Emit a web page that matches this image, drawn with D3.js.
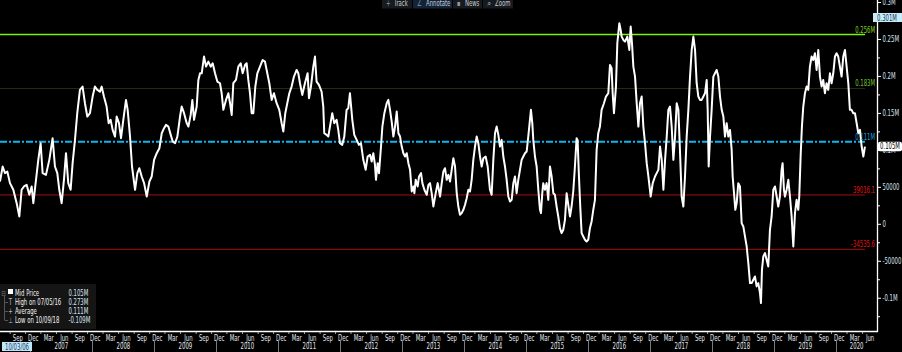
<!DOCTYPE html>
<html>
<head>
<meta charset="utf-8">
<script src="https://cdn.jsdelivr.net/npm/d3@7"></script>
<style>
html, body { margin: 0; padding: 0; background: #000; }
svg { display: block; }
text { font-family: "Liberation Sans Narrow", "DejaVu Sans Condensed", "Liberation Sans", sans-serif; font-size: 8px; }
</style>
</head>
<body>
<div id="chart"></div>
<script>
const width = 902, height = 352;
const plotW = 877, plotH = 331;

// Mid price: time as decimal year, value in thousands
const years = [
  2006.510, 2006.553, 2006.591, 2006.628, 2006.671, 2006.725, 2006.779, 2006.822, 2006.859, 2006.897,
  2006.940, 2006.983, 2007.021, 2007.048, 2007.091, 2007.128, 2007.166, 2007.198, 2007.252, 2007.306,
  2007.359, 2007.397, 2007.435, 2007.467, 2007.505, 2007.542, 2007.575, 2007.612, 2007.650, 2007.682,
  2007.720, 2007.757, 2007.800, 2007.843, 2007.881, 2007.919, 2007.962, 2008.005, 2008.042, 2008.080,
  2008.123, 2008.150, 2008.187, 2008.230, 2008.263, 2008.295, 2008.327, 2008.365, 2008.392, 2008.429,
  2008.462, 2008.499, 2008.542, 2008.569, 2008.607, 2008.639, 2008.688, 2008.725, 2008.757, 2008.795,
  2008.833, 2008.876, 2008.919, 2008.956, 2008.994, 2009.037, 2009.080, 2009.118, 2009.155, 2009.187,
  2009.225, 2009.263, 2009.295, 2009.333, 2009.370, 2009.413, 2009.440, 2009.478, 2009.521, 2009.548,
  2009.585, 2009.612, 2009.639, 2009.682, 2009.709, 2009.736, 2009.763, 2009.800, 2009.833, 2009.870,
  2009.908, 2009.940, 2009.978, 2010.015, 2010.058, 2010.085, 2010.112, 2010.155, 2010.193, 2010.220,
  2010.247, 2010.273, 2010.316, 2010.354, 2010.392, 2010.424, 2010.462, 2010.488, 2010.515, 2010.542,
  2010.569, 2010.596, 2010.628, 2010.661, 2010.704, 2010.747, 2010.784, 2010.811, 2010.854, 2010.892,
  2010.929, 2010.972, 2011.015, 2011.053, 2011.080, 2011.112, 2011.144, 2011.177, 2011.214, 2011.252,
  2011.295, 2011.322, 2011.349, 2011.386, 2011.429, 2011.472, 2011.494, 2011.526, 2011.564, 2011.591,
  2011.617, 2011.655, 2011.698, 2011.725, 2011.741, 2011.779, 2011.806, 2011.833, 2011.870, 2011.902,
  2011.940, 2011.967, 2011.994, 2012.031, 2012.064, 2012.101, 2012.128, 2012.155, 2012.193, 2012.225,
  2012.263, 2012.300, 2012.332, 2012.370, 2012.408, 2012.440, 2012.478, 2012.505, 2012.531, 2012.558,
  2012.574, 2012.601, 2012.623, 2012.655, 2012.677, 2012.709, 2012.747, 2012.773, 2012.800, 2012.827,
  2012.854, 2012.881, 2012.908, 2012.935, 2012.962, 2012.988, 2013.015, 2013.042, 2013.069, 2013.096,
  2013.123, 2013.150, 2013.177, 2013.193, 2013.214, 2013.246, 2013.268, 2013.300, 2013.322, 2013.354,
  2013.392, 2013.419, 2013.445, 2013.472, 2013.499, 2013.537, 2013.569, 2013.607, 2013.634, 2013.660,
  2013.687, 2013.714, 2013.741, 2013.768, 2013.795, 2013.822, 2013.849, 2013.876, 2013.902, 2013.929,
  2013.956, 2013.983, 2014.010, 2014.037, 2014.064, 2014.091, 2014.117, 2014.144, 2014.171, 2014.198,
  2014.225, 2014.252, 2014.279, 2014.306, 2014.343, 2014.376, 2014.413, 2014.440, 2014.467, 2014.494,
  2014.521, 2014.548, 2014.574, 2014.601, 2014.628, 2014.655, 2014.682, 2014.709, 2014.736, 2014.763,
  2014.790, 2014.816, 2014.843, 2014.870, 2014.897, 2014.924, 2014.951, 2014.978, 2015.005, 2015.031,
  2015.058, 2015.074, 2015.096, 2015.112, 2015.139, 2015.166, 2015.193, 2015.220, 2015.236, 2015.257,
  2015.273, 2015.300, 2015.327, 2015.354, 2015.381, 2015.408, 2015.435, 2015.461, 2015.488, 2015.515,
  2015.542, 2015.569, 2015.596, 2015.623, 2015.650, 2015.677, 2015.704, 2015.730, 2015.757, 2015.784,
  2015.811, 2015.827, 2015.849, 2015.870, 2015.892, 2015.919, 2015.946, 2015.972, 2015.999, 2016.026,
  2016.053, 2016.080, 2016.107, 2016.134, 2016.160, 2016.187, 2016.214, 2016.252, 2016.284, 2016.322,
  2016.349, 2016.375, 2016.392, 2016.413, 2016.445, 2016.467, 2016.499, 2016.521, 2016.537, 2016.564,
  2016.591, 2016.628, 2016.660, 2016.682, 2016.703, 2016.725, 2016.752, 2016.779, 2016.806, 2016.832,
  2016.859, 2016.886, 2016.913, 2016.940, 2016.967, 2017.004, 2017.037, 2017.074, 2017.101, 2017.128,
  2017.155, 2017.182, 2017.209, 2017.236, 2017.263, 2017.289, 2017.316, 2017.343, 2017.370, 2017.397,
  2017.424, 2017.451, 2017.478, 2017.504, 2017.531, 2017.558, 2017.585, 2017.612, 2017.639, 2017.666,
  2017.693, 2017.720, 2017.746, 2017.773, 2017.800, 2017.827, 2017.854, 2017.881, 2017.908, 2017.924,
  2017.940, 2017.962, 2017.988, 2018.015, 2018.042, 2018.069, 2018.096, 2018.123, 2018.150, 2018.177,
  2018.203, 2018.230, 2018.257, 2018.284, 2018.311, 2018.327, 2018.349, 2018.370, 2018.392, 2018.418,
  2018.445, 2018.472, 2018.499, 2018.526, 2018.553, 2018.580, 2018.607, 2018.634, 2018.660, 2018.687,
  2018.714, 2018.741, 2018.768, 2018.784, 2018.800, 2018.822, 2018.849, 2018.875, 2018.902, 2018.929,
  2018.956, 2018.983, 2019.010, 2019.037, 2019.063, 2019.090, 2019.117, 2019.133, 2019.155, 2019.171,
  2019.198, 2019.225, 2019.252, 2019.279, 2019.306, 2019.333, 2019.359, 2019.386, 2019.402, 2019.424,
  2019.445, 2019.467, 2019.494, 2019.521, 2019.547, 2019.574, 2019.601, 2019.628, 2019.655, 2019.682,
  2019.709, 2019.736, 2019.763, 2019.789, 2019.816, 2019.843, 2019.870, 2019.897, 2019.924, 2019.951,
  2019.978, 2020.004, 2020.031, 2020.058, 2020.085, 2020.112, 2020.139, 2020.166, 2020.193, 2020.219,
  2020.246, 2020.273, 2020.300, 2020.327, 2020.354, 2020.381, 2020.408, 2020.435, 2020.461
];
const midK = [
  57.2, 77.5, 68.5, 70.7, 55.0, 46.0, 27.9, 9.9, 46.0, 50.5,
  52.7, 39.2, 50.5, 27.9, 59.5, 86.5, 109.0, 68.5, 66.2, 86.5,
  115.8, 77.5, 68.5, 46.0, 27.9, 59.5, 95.5, 55.0, 46.0, 82.0,
  113.5, 149.6, 181.1, 185.6, 163.1, 145.1, 149.6, 172.1, 185.6, 181.1,
  178.8, 185.6, 172.1, 158.6, 136.1, 140.6, 127.0, 118.0, 145.1, 136.1,
  115.8, 140.6, 167.6, 154.1, 118.0, 77.5, 46.0, 68.5, 75.2, 64.0,
  55.0, 36.9, 57.2, 64.0, 86.5, 95.5, 102.3, 122.5, 129.3, 133.8,
  131.5, 120.3, 111.3, 109.0, 118.0, 145.1, 158.6, 149.6, 136.1, 131.5,
  147.3, 167.6, 140.6, 158.6, 194.6, 203.6, 203.6, 226.2, 212.6, 219.4,
  212.6, 217.1, 203.6, 192.4, 190.1, 176.6, 154.1, 167.6, 176.6, 163.1,
  147.3, 190.1, 194.6, 212.6, 217.1, 203.6, 214.9, 217.1, 194.6, 176.6,
  149.6, 149.6, 185.6, 203.6, 212.6, 221.6, 219.4, 208.1, 190.1, 167.6,
  176.6, 163.1, 154.1, 136.1, 124.8, 149.6, 163.1, 176.6, 185.6, 199.1,
  208.1, 203.6, 190.1, 174.3, 190.1, 203.6, 169.8, 185.6, 212.6, 226.2,
  192.4, 187.9, 178.8, 158.6, 122.5, 120.3, 118.0, 131.5, 149.6, 136.1,
  140.6, 127.0, 109.0, 106.8, 118.0, 154.1, 156.3, 176.6, 140.6, 120.3,
  113.5, 106.8, 109.0, 86.5, 73.0, 91.0, 93.3, 84.2, 95.5, 79.7,
  59.5, 82.0, 68.5, 104.5, 131.5, 149.6, 163.1, 167.6, 154.1, 138.3,
  118.0, 131.5, 151.8, 122.5, 118.0, 104.5, 95.5, 91.0, 95.5, 82.0,
  73.0, 43.7, 50.5, 41.4, 59.5, 50.5, 64.0, 68.5, 55.0, 46.0,
  39.2, 52.7, 55.0, 41.4, 23.4, 41.4, 55.0, 36.9, 55.0, 70.7,
  75.2, 59.5, 66.2, 57.2, 73.0, 88.7, 77.5, 41.4, 23.4, 12.2,
  14.4, 18.9, 25.7, 34.7, 46.0, 43.7, 59.5, 86.5, 104.5, 118.0,
  109.0, 91.0, 77.5, 88.7, 91.0, 77.5, 46.0, 39.2, 86.5, 122.5,
  131.5, 120.3, 104.5, 113.5, 91.0, 77.5, 59.5, 36.9, 30.2, 32.4,
  55.0, 64.0, 41.4, 59.5, 73.0, 86.5, 91.0, 95.5, 97.8, 118.0,
  140.6, 154.1, 136.1, 113.5, 91.0, 77.5, 46.0, 18.9, 14.4, 41.4,
  55.0, 46.0, 55.0, 32.4, 77.5, 64.0, 41.4, 39.2, 23.4, 9.9,
  -5.9, -12.6, -8.1, 5.4, 41.4, 25.7, 9.9, 23.4, 43.7, 77.5,
  115.8, 113.5, 64.0, 23.4, -12.6, -17.1, -21.6, -23.9, -21.6, -5.9,
  3.2, 18.9, 32.4, 100.0, 122.5, 131.5, 154.1, 163.1, 172.1, 176.6,
  214.9, 210.4, 176.6, 149.6, 185.6, 244.2, 271.2, 262.2, 253.2, 248.7,
  246.4, 253.2, 235.2, 266.7, 244.2, 212.6, 199.1, 163.1, 131.5, 163.1,
  172.1, 131.5, 109.0, 82.0, 64.0, 36.9, 55.0, 64.0, 68.5, 73.0,
  104.5, 86.5, 46.0, 86.5, 118.0, 154.1, 158.6, 131.5, 86.5, 118.0,
  163.1, 154.1, 95.5, 36.9, 23.4, 64.0, 118.0, 154.1, 199.1, 235.2,
  253.2, 235.2, 190.1, 172.1, 167.6, 167.6, 172.1, 176.6, 194.6, 154.1,
  77.5, 118.0, 154.1, 199.1, 203.6, 208.1, 199.1, 172.1, 154.1, 145.1,
  118.0, 136.1, 118.0, 127.0, 100.0, 64.0, 41.4, 18.9, 27.9, 55.0,
  50.5, 0.9, -3.6, -17.1, -30.6, -53.2, -80.2, -80.2, -75.7, -71.2,
  -84.7, -80.2, -93.7, -107.2, -62.2, -44.1, -39.6, -48.7, -57.7, -8.1,
  9.9, 46.0, 50.5, 36.9, 23.4, 36.9, 73.0, 82.0, 46.0, 36.9,
  46.0, 59.5, 36.9, 9.9, -30.6, 14.4, 32.4, 18.9, 36.9, 91.0,
  131.5, 158.6, 176.6, 185.6, 181.1, 212.6, 226.2, 221.6, 230.7, 208.1,
  235.2, 199.1, 185.6, 194.6, 176.6, 190.1, 181.1, 203.6, 190.1, 203.6,
  226.2, 230.7, 226.2, 212.6, 199.1, 226.2, 235.2, 212.6, 190.1, 154.1,
  154.1, 149.6, 149.6, 136.1, 122.5, 127.0, 104.5, 91.0, 104.5
];

// reference levels (thousands)
const levelValues = [256, 183, 111, 39.0161, -34.5356];
const levelLabels = ['0.256M', '0.183M', '0.111M', '39016.1', '-34535.6'];
const levelColors = ['#7cf400', '#1f2e14', '#12b4ee', '#a50e0e', '#a50e0e'];
const levelTextColors = ['#86d21c', '#74c232', '#1a9fd6', '#e01212', '#e01212'];

const yTicks = [-100, -50, 0, 50, 100, 150, 200, 250, 300];
const yMinorTicks = [-125, -75, -25, 25, 75, 125, 175, 225, 275];

const legendNames = ['Mid Price', 'High on 07/05/16', 'Average', 'Low on 10/09/18'];
const legendValues = ['0.105M', '0.273M', '0.111M', '-0.109M'];
const lastLabel = '0.105M';
const topLabel = '0.301M';
const cursorDate = '10/03/06';
const toolbarItems = ['Track', 'Annotate', 'News', 'Zoom'];
const toolbarIcons = ['+', '\u2220', '\u25aa', '\u2315'];

// narrow the glyphs: the terminal font is much tighter than the installed ones
const squeeze = 0.74;

// decimal year -> Date
function toDate(t) {
  const yr = Math.floor(t);
  const a = Date.UTC(yr, 0, 1), b = Date.UTC(yr + 1, 0, 1);
  return new Date(a + (t - yr) * (b - a));
}

const data = years.map((t, i) => ({ date: toDate(t), v: midK[i] }));

const x = d3.scaleUtc()
  .domain([toDate(2006.51), toDate(2020.655)])
  .range([0, plotW]);

const y = d3.scaleLinear()
  .domain([-145, 302.7])
  .range([plotH, 0]);

const svg = d3.select('#chart')
  .append('svg')
  .attr('width', width)
  .attr('height', height);

svg.append('rect').attr('width', width).attr('height', height).attr('fill', '#000');

// reference lines
levelValues.forEach((lv, i) => {
  svg.append('line')
    .attr('x1', 0).attr('x2', 865)
    .attr('y1', y(lv)).attr('y2', y(lv))
    .attr('stroke', levelColors[i])
    .attr('stroke-width', i === 0 ? 1.6 : (i === 2 ? 2 : 1))
    .attr('stroke-dasharray', i === 2 ? '7,2,2,2' : null);
});

// the series
const line = d3.line()
  .x(d => x(d.date))
  .y(d => y(d.v));

svg.append('path')
  .datum(data)
  .attr('fill', 'none')
  .attr('stroke', '#fff')
  .attr('stroke-width', 2)
  .attr('stroke-linejoin', 'round')
  .attr('d', line);

// level labels
levelValues.forEach((lv, i) => {
  svg.append('text')
    .attr('x', 875).attr('y', y(lv) - 2)
    .attr('text-anchor', 'end')
    .attr('fill', levelTextColors[i])
    .text(levelLabels[i]);
});

// right axis
const yAxis = svg.append('g')
  .attr('transform', `translate(${plotW},0)`)
  .call(d3.axisRight(y)
    .tickValues(yTicks)
    .tickSize(4)
    .tickPadding(1.5)
    .tickFormat(v => v === 0 ? '0' : Math.abs(v) >= 100 ? (v / 1000) + 'M' : String(v * 1000)));
yAxis.select('.domain').remove();
yAxis.selectAll('line').attr('stroke', '#fff');
yAxis.selectAll('text').attr('fill', '#d6e2ee').attr('font-size', 8)
  .attr('font-family', '"Liberation Sans Narrow", "DejaVu Sans Condensed", sans-serif');

const yMinor = svg.append('g')
  .attr('transform', `translate(${plotW},0)`)
  .call(d3.axisRight(y).tickValues(yMinorTicks).tickSize(3).tickFormat(''));
yMinor.select('.domain').remove();
yMinor.selectAll('line').attr('stroke', '#fff');

svg.append('line')
  .attr('x1', plotW + 0.5).attr('x2', plotW + 0.5)
  .attr('y1', 0).attr('y2', plotH + 1)
  .attr('stroke', '#fff').attr('stroke-width', 1.3);

// bottom axis
svg.append('line')
  .attr('x1', 0).attr('x2', plotW + 1)
  .attr('y1', plotH + 0.5).attr('y2', plotH + 0.5)
  .attr('stroke', '#fff').attr('stroke-width', 1.3);

const [d0, d1] = x.domain();
const quarters = d3.utcMonth.range(d0, d1).filter(d => d.getUTCMonth() % 3 === 2);

const xAxis = svg.append('g')
  .attr('transform', `translate(0,${plotH + 1})`)
  .call(d3.axisBottom(x)
    .tickValues(quarters)
    .tickSize(2)
    .tickPadding(1)
    .tickFormat(d3.utcFormat('%b')));
xAxis.select('.domain').remove();
xAxis.selectAll('line').attr('stroke', '#aaa');
xAxis.selectAll('text')
  .attr('fill', '#e4e8ee').attr('font-size', 8)
  .attr('font-family', '"Liberation Sans Narrow", "DejaVu Sans Condensed", sans-serif')
  .attr('dx', d => {
    const end = d3.min([d3.utcMonth.offset(d, 3), d1]);
    return (x(end) - x(d)) / 2;
  });

// year row
const yearStarts = d3.utcYear.range(d3.utcYear.ceil(d0), d1);
svg.append('g').selectAll('line')
  .data(yearStarts)
  .join('line')
  .attr('x1', d => Math.round(x(d)) + 0.5).attr('x2', d => Math.round(x(d)) + 0.5)
  .attr('y1', 340).attr('y2', height)
  .attr('stroke', '#7a7a7a');

svg.append('g').selectAll('text')
  .data(yearStarts)
  .join('text')
  .attr('x', d => (x(d) + x(d3.min([d3.utcYear.offset(d, 1), d1]))) / 2)
  .attr('y', 349)
  .attr('text-anchor', 'middle')
  .attr('fill', '#e4e8ee')
  .text(d => d.getUTCFullYear());

// crosshair date box
svg.append('rect')
  .attr('x', 2).attr('y', 342).attr('width', 30).attr('height', 9)
  .attr('fill', '#bfe6f6');
svg.append('text')
  .attr('x', 17).attr('y', 349.5).attr('text-anchor', 'middle')
  .attr('fill', '#1a3a6a').text(cursorDate);

// last price and cursor labels on the right
svg.append('rect')
  .attr('x', 878).attr('y', y(105) - 4.5).attr('width', 24).attr('height', 9.5)
  .attr('rx', 2).attr('fill', '#fff');
svg.append('text')
  .attr('x', 890).attr('y', y(105) + 3).attr('text-anchor', 'middle')
  .attr('fill', '#000').text(lastLabel);

svg.append('rect')
  .attr('x', 873).attr('y', 13).attr('width', 29).attr('height', 9)
  .attr('fill', '#c6ecf8');
svg.append('text')
  .attr('x', 887).attr('y', 20.5).attr('text-anchor', 'middle')
  .attr('fill', '#15355a').text(topLabel);

// legend
const lg = svg.append('g');
lg.append('rect').attr('x', 0).attr('y', 284).attr('width', 96).attr('height', 45).attr('fill', '#151515');
lg.append('line').attr('x1', 4.5).attr('x2', 4.5).attr('y1', 296).attr('y2', 320).attr('stroke', '#555');
lg.append('text').attr('x', 1.5).attr('y', 296).attr('fill', '#777').attr('font-size', 7).text('\u229f');
lg.append('rect').attr('x', 8).attr('y', 289).attr('width', 5).attr('height', 5).attr('fill', '#fff');
const marks = ['', 'T', '+', '\u22a5'];
legendNames.forEach((name, i) => {
  const yy = 296 + i * 9;
  if (i > 0) {
    lg.append('line').attr('x1', 4.5).attr('x2', 8).attr('y1', yy - 2.5).attr('y2', yy - 2.5).attr('stroke', '#555');
    lg.append('text').attr('x', 10.5).attr('y', yy).attr('text-anchor', 'middle').attr('fill', '#bbb').text(marks[i]);
  }
  lg.append('text').attr('x', 15).attr('y', yy).attr('fill', '#f2f2f2').text(name);
  lg.append('text').attr('x', 68.5).attr('y', yy).attr('fill', '#d8e4f0').text(legendValues[i]);
});

// toolbar
const tbX = [382, 413, 453, 483];
const tbW = [30, 39, 29, 30];
toolbarItems.forEach((item, i) => {
  svg.append('rect').attr('x', tbX[i]).attr('y', 0).attr('width', tbW[i]).attr('height', 8.5)
    .attr('fill', i === 1 ? '#13233a' : '#171a1e');
  svg.append('text').attr('x', tbX[i] + 4).attr('y', 5.5).attr('fill', '#8d96a4').attr('font-size', 7).text(toolbarIcons[i]);
  svg.append('text').attr('x', tbX[i] + (i === 1 ? 13 : 12)).attr('y', 5.5).attr('fill', '#c8cdd4').text(item);
});

// compress every label horizontally
svg.selectAll('text').each(function () {
  const len = this.getComputedTextLength();
  if (len > 4) {
    this.setAttribute('textLength', (len * squeeze).toFixed(1));
    this.setAttribute('lengthAdjust', 'spacingAndGlyphs');
  }
});
</script>
</body>
</html>
